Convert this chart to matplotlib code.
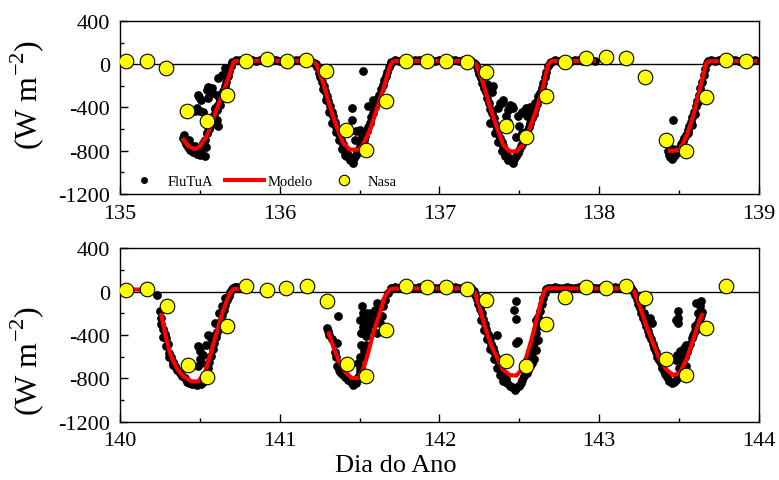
import numpy as np
import matplotlib
matplotlib.use('Agg')
import matplotlib.pyplot as plt
from matplotlib.lines import Line2D
from matplotlib.ticker import MultipleLocator

plt.rcParams['font.family'] = ['Liberation Serif', 'DejaVu Serif']
plt.rcParams['mathtext.fontset'] = 'custom'
plt.rcParams['mathtext.rm'] = 'Liberation Serif'
plt.rcParams['axes.unicode_minus'] = False

nan = float('nan')

# ---------------- Model (red line) ----------------
model_top = [
    (135.39, -683), (135.43, -760), (135.47, -785), (135.50, -760), (135.543, -668),
    (135.575, -545), (135.605, -421), (135.635, -300), (135.668, -174), (135.69, -80),
    (135.709, 11), (135.72, 28), (135.80, 32), (136.00, 32), (136.20, 30), (136.215, 20),
    (136.231, -5), (136.273, -174), (136.315, -390), (136.356, -575), (136.398, -729),
    (136.44, -790), (136.492, -790), (136.523, -744), (136.565, -607), (136.607, -421),
    (136.648, -236), (136.69, -20), (136.71, 26), (136.72, 30), (137.00, 30), (137.21, 30),
    (137.233, -5), (137.274, -174), (137.316, -390), (137.358, -575), (137.399, -744),
    (137.441, -806), (137.483, -806), (137.525, -744), (137.566, -590), (137.608, -421),
    (137.65, -205), (137.681, -5), (137.70, 26), (137.72, 30), (137.98, 30), (nan, nan),
    (138.43, -800), (138.47, -800), (138.505, -790), (138.547, -668), (138.589, -483),
    (138.63, -236), (138.672, 11), (138.69, 28), (138.99, 30),
]
model_bot = [
    (140.00, 20), (140.13, 20), (nan, nan),
    (140.257, -197), (140.282, -381), (140.313, -566), (140.355, -705), (140.396, -782),
    (140.449, -828), (140.49, -828), (140.532, -751), (140.563, -597), (140.605, -381),
    (140.647, -166), (140.689, -12), (140.71, 22), (140.745, 28), (nan, nan),
    (141.304, -366), (141.335, -505), (141.367, -628), (141.408, -736), (141.45, -797),
    (141.492, -797), (141.523, -720), (141.554, -566), (141.586, -381), (141.628, -197),
    (141.659, -43), (141.69, 18), (141.71, 28), (142.00, 30), (142.20, 30), (142.22, 0),
    (142.243, -104), (142.285, -320), (142.327, -505), (142.368, -628), (142.399, -720),
    (142.441, -770), (142.483, -775), (142.514, -720), (142.546, -597), (142.577, -443),
    (142.608, -259), (142.64, -74), (142.66, 10), (142.675, 30), (143.00, 30), (143.20, 30),
    (143.22, 0), (143.255, -135), (143.297, -320), (143.338, -474), (143.38, -628),
    (143.422, -720), (143.464, -770), (143.505, -751), (143.547, -628), (143.589, -443),
    (143.631, -259), (143.651, -197),
]

# ---------------- FluTuA (black dots) ----------------
flutua_top = [
    # dip 1
    (135.395, -680), (135.40, -650), (135.405, -710), (135.415, -740), (135.425, -770),
    (135.43, -700), (135.44, -790), (135.45, -760), (135.455, -810), (135.465, -800),
    (135.47, -760), (135.48, -830), (135.49, -790), (135.50, -840), (135.51, -820),
    (135.515, -770), (135.53, -850), (135.53, -700), (135.54, -770), (135.545, -640),
    (135.55, -580), (135.56, -600), (135.565, -545), (135.575, -530), (135.58, -500),
    (135.59, -470), (135.595, -410), (135.605, -420), (135.605, -520), (135.615, -575),
    (135.615, -380), (135.625, -330), (135.635, -290), (135.645, -250), (135.655, -200),
    (135.665, -160), (135.675, -110), (135.685, -60), (135.695, -20),
    (135.48, -405), (135.49, -282), (135.495, -300), (135.50, -437), (135.51, -328),
    (135.52, -440), (135.543, -236), (135.552, -313), (135.552, -210), (135.574, -267),
    (135.574, -220), (135.595, -405), (135.605, -282), (135.615, -128), (135.626, -374),
    (135.636, -97), (135.657, -35), (135.584, -498), (135.469, -437), (135.52, -729),
    (135.543, -637), (135.563, -575), (135.626, -328),
    # flat
    (135.70, 20), (135.725, 35), (135.75, 40), (135.775, 30), (135.80, 40), (135.825, 35),
    (135.85, 30), (135.875, 40), (135.90, 35), (135.925, 25), (135.95, 35), (135.975, 40),
    (136.00, 30), (136.025, 35), (136.05, 40), (136.075, 30), (136.10, 35), (136.125, 40),
    (136.15, 30), (136.175, 35), (136.20, 25), (136.215, 10),
    # dip 2
    (136.225, 0), (136.235, -30), (136.245, -80), (136.255, -120), (136.265, -160),
    (136.275, -200), (136.285, -250), (136.295, -290), (136.305, -340), (136.315, -390),
    (136.325, -440), (136.335, -480), (136.345, -530), (136.355, -580), (136.365, -620),
    (136.375, -660), (136.385, -700), (136.395, -740), (136.405, -780), (136.415, -810),
    (136.425, -840), (136.435, -860), (136.445, -880), (136.455, -895), (136.465, -870),
    (136.475, -840), (136.27, -230), (136.29, -330), (136.31, -440), (136.33, -540),
    (136.35, -630), (136.37, -700), (136.39, -780), (136.41, -840), (136.418, -852),
    (136.46, -914), (136.44, -883),
    (136.485, -810), (136.495, -780), (136.505, -760), (136.515, -730), (136.525, -700),
    (136.535, -660), (136.545, -620), (136.555, -580), (136.565, -540), (136.575, -490),
    (136.585, -450), (136.595, -400), (136.605, -360), (136.615, -320), (136.625, -280),
    (136.635, -230), (136.645, -190), (136.655, -150), (136.665, -110), (136.675, -70),
    (136.685, -30), (136.695, 10),
    (136.52, -67), (136.554, -390), (136.586, -328), (136.45, -405), (136.45, -513),
    (136.502, -606), (136.515, -660), (136.471, -698), (136.48, -620),
    # flat
    (136.70, 25), (136.725, 35), (136.75, 30), (136.775, 40), (136.80, 35), (136.825, 30),
    (136.85, 40), (136.875, 35), (136.90, 30), (136.925, 40), (136.95, 35), (136.975, 30),
    (137.00, 35), (137.025, 40), (137.05, 30), (137.075, 35), (137.10, 40), (137.125, 30),
    (137.15, 35), (137.175, 40), (137.20, 30), (137.22, 15),
    # dip 3
    (137.23, -10), (137.24, -50), (137.25, -90), (137.26, -130), (137.27, -170),
    (137.28, -220), (137.29, -260), (137.30, -310), (137.31, -360), (137.32, -410),
    (137.33, -450), (137.34, -500), (137.35, -550), (137.36, -590), (137.37, -630),
    (137.38, -680), (137.39, -720), (137.40, -760), (137.41, -800), (137.42, -830),
    (137.43, -860), (137.44, -880), (137.45, -890), (137.46, -910), (137.47, -880),
    (137.48, -850), (137.30, -180), (137.316, -220), (137.33, -260), (137.337, -205),
    (137.316, -545), (137.35, -640), (137.37, -720), (137.39, -800), (137.41, -850),
    (137.43, -890),
    (137.49, -820), (137.50, -790), (137.51, -760), (137.52, -740), (137.53, -700),
    (137.54, -660), (137.55, -620), (137.56, -580), (137.57, -540), (137.58, -500),
    (137.59, -460), (137.60, -410), (137.61, -370), (137.62, -320), (137.63, -270),
    (137.64, -220), (137.65, -170), (137.66, -120), (137.67, -70), (137.68, -20),
    (137.69, 15), (137.56, -420), (137.57, -400), (137.60, -360), (137.62, -298),
    (137.546, -483),
    (137.379, -359), (137.39, -359), (137.399, -328), (137.441, -374), (137.452, -390),
    (137.46, -405), (137.43, -420), (137.37, -405), (137.42, -483), (137.43, -530),
    (137.49, -483), (137.52, -440), (137.54, -405), (137.50, -575), (137.48, -670),
    (137.52, -640),
    # flat
    (137.70, 25), (137.725, 35), (137.75, 30), (137.775, 40), (137.80, 35), (137.825, 30),
    (137.85, 40), (137.875, 35), (137.90, 30), (137.925, 40), (137.95, 35), (137.975, 30),
    # dip 4
    (138.43, -800), (138.435, -840), (138.445, -860), (138.455, -880), (138.465, -860),
    (138.475, -840), (138.485, -810), (138.495, -790), (138.505, -770), (138.515, -740),
    (138.525, -710), (138.535, -680), (138.545, -650), (138.555, -610), (138.565, -570),
    (138.575, -530), (138.585, -490), (138.595, -440), (138.605, -390), (138.615, -340),
    (138.625, -280), (138.635, -220), (138.645, -160), (138.655, -100), (138.665, -40),
    (138.675, 10), (138.685, 30), (138.464, -513), (138.44, -800), (138.46, -780),
    (138.56, -640), (138.58, -560), (138.60, -460), (138.62, -350),
    # flat
    (138.70, 35), (138.725, 30), (138.75, 40), (138.775, 35), (138.80, 30), (138.825, 40),
    (138.85, 35), (138.875, 30), (138.90, 40), (138.925, 35), (138.95, 30), (138.975, 35),
]

flutua_bot = [
    # dip 5
    (140.229, -28), (140.25, -182), (140.255, -240), (140.26, -300), (140.27, -340),
    (140.28, -390), (140.29, -430), (140.30, -480), (140.31, -570), (140.32, -600),
    (140.33, -650), (140.345, -690), (140.36, -720), (140.375, -750), (140.39, -780),
    (140.405, -800), (140.42, -830), (140.435, -840), (140.45, -850), (140.465, -855),
    (140.48, -860), (140.495, -855), (140.51, -850), (140.52, -830), (140.53, -800),
    (140.54, -760), (140.55, -700), (140.56, -650), (140.57, -590), (140.58, -530),
    (140.59, -470), (140.60, -420), (140.61, -370), (140.62, -320), (140.63, -270),
    (140.64, -220), (140.65, -170), (140.66, -120), (140.67, -80), (140.68, -40),
    (140.69, 0), (140.70, 20), (140.71, 30), (140.72, 40), (140.73, 40), (140.74, 35),
    (140.595, -289), (140.62, -200), (140.64, -130), (140.66, -60),
    (140.486, -505), (140.50, -550), (140.52, -580), (140.553, -397), (140.57, -430),
    (140.584, -413), (140.49, -690), (140.50, -620), (140.51, -660), (140.54, -490),
    (140.27, -420), (140.29, -500), (140.31, -600), (140.33, -680),
    # dip 6
    (141.294, -335), (141.30, -360), (141.31, -400), (141.33, -440), (141.356, -474),
    (141.367, -228), (141.345, -560), (141.35, -600), (141.356, -690), (141.37, -720),
    (141.38, -745), (141.39, -760), (141.41, -790), (141.43, -812), (141.445, -835),
    (141.46, -860), (141.475, -840), (141.48, -830), (141.49, -790), (141.50, -740),
    (141.513, -136), (141.52, -197), (141.50, -259), (141.53, -290), (141.55, -259),
    (141.51, -381), (141.54, -413), (141.555, -351), (141.586, -228), (141.596, -166),
    (141.607, -104), (141.617, -120), (141.51, -490), (141.53, -550), (141.49, -660),
    (141.50, -600), (141.54, -490), (141.575, -290), (141.607, -381), (141.628, -290),
    (141.638, -228), (141.65, -136), (141.66, -74), (141.68, -12), (141.70, 20),
    (141.52, -330), (141.56, -300), (141.57, -200), (141.59, -300), (141.60, -250),
    (141.545, -200), (141.52, -600), (141.51, -710), (141.50, -700),
    # flat
    (141.70, 30), (141.725, 40), (141.75, 35), (141.775, 30), (141.80, 40), (141.825, 35),
    (141.85, 30), (141.875, 40), (141.90, 35), (141.925, 30), (141.95, 40), (141.975, 35),
    (142.00, 30), (142.025, 40), (142.05, 35), (142.075, 30), (142.10, 40), (142.125, 35),
    (142.15, 30), (142.175, 40), (142.20, 30),
    # dip 7
    (142.215, 10), (142.225, -30), (142.235, -70), (142.245, -110), (142.255, -160),
    (142.265, -200), (142.275, -250), (142.285, -300), (142.295, -340), (142.305, -390),
    (142.315, -430), (142.325, -480), (142.335, -520), (142.345, -560), (142.355, -600),
    (142.365, -640), (142.375, -680), (142.385, -720), (142.395, -760), (142.405, -790),
    (142.415, -810), (142.425, -840), (142.44, -870), (142.455, -880), (142.473, -910),
    (142.485, -880), (142.50, -870), (142.51, -840), (142.52, -812), (142.53, -780),
    (142.546, -750), (142.556, -720), (142.567, -690),
    (142.26, -260), (142.28, -350), (142.30, -440), (142.32, -530), (142.34, -620),
    (142.36, -700), (142.38, -770), (142.40, -820),
    (142.577, -566), (142.585, -520), (142.59, -470), (142.60, -443), (142.605, -380),
    (142.608, -259), (142.615, -320), (142.62, -230), (142.63, -180), (142.64, -110),
    (142.65, -60), (142.66, -10), (142.67, 25),
    (142.608, -535), (142.617, -443), (142.59, -620), (142.58, -660), (142.57, -600),
    (142.479, -89), (142.47, -170), (142.48, -250), (142.48, -474), (142.494, -459),
    (142.358, -397),
    # flat
    (142.68, 35), (142.70, 30), (142.725, 40), (142.75, 35), (142.775, 30), (142.80, 40),
    (142.825, 35), (142.85, 30), (142.875, 40), (142.90, 35), (142.925, 30), (142.95, 40),
    (142.975, 35), (143.00, 30), (143.025, 40), (143.05, 35), (143.075, 30), (143.10, 40),
    (143.125, 35), (143.15, 30), (143.175, 40), (143.20, 30),
    # dip 8
    (143.215, 10), (143.225, -30), (143.235, -70), (143.245, -110), (143.255, -150),
    (143.265, -200), (143.275, -240), (143.285, -280), (143.295, -320), (143.305, -360),
    (143.315, -400), (143.325, -440), (143.335, -480), (143.345, -520), (143.355, -560),
    (143.365, -600), (143.375, -630), (143.385, -660), (143.395, -700), (143.405, -730),
    (143.415, -760), (143.425, -790), (143.44, -828), (143.455, -843), (143.47, -830),
    (143.48, -812), (143.495, -790), (143.51, -782),
    (143.318, -243), (143.33, -290), (143.26, -130), (143.28, -200),
    (143.495, -182), (143.495, -243), (143.495, -290), (143.48, -259), (143.61, -104),
    (143.63, -135), (143.62, -197), (143.63, -243), (143.60, -320), (143.58, -430),
    (143.547, -490), (143.53, -520), (143.51, -550), (143.49, -580), (143.48, -630),
    (143.50, -700), (143.52, -640), (143.54, -600), (143.56, -520), (143.57, -480),
    (143.59, -400), (143.60, -360), (143.615, -300), (143.625, -260), (143.64, -220),
    (143.645, -190), (143.55, -560), (143.53, -740), (143.545, -690), (143.64, -90),
]

# ---------------- Nasa (yellow circles) ----------------
nasa_top_day = [135.038, 135.167, 135.288, 135.421, 135.543, 135.668, 135.787, 135.918,
                136.043, 136.168, 136.293, 136.418, 136.54, 136.669, 136.79, 136.92,
                137.041, 137.17, 137.291, 137.42, 137.54, 137.667, 137.787, 137.921,
                138.042, 138.167, 138.29, 138.422, 138.543, 138.668, 138.793, 138.919]
nasa_top_val = [26, 26, -35, -430, -522, -282, 26, 48,
                32, 42, -67, -606, -790, -344, 32, 32,
                32, 20, -76, -575, -673, -298, 17, 57,
                67, 57, -122, -698, -800, -307, 42, 32]
nasa_bot_day = [140.038, 140.167, 140.292, 140.424, 140.543, 140.668, 140.789, 140.918,
                141.039, 141.169, 141.294, 141.419, 141.54, 141.669, 141.79, 141.92,
                142.041, 142.17, 142.291, 142.42, 142.54, 142.667, 142.787, 142.921,
                143.042, 143.167, 143.29, 143.422, 143.543, 143.668, 143.793]
nasa_bot_val = [18, 28, -129, -674, -791, -314, 49, 18,
                34, 55, -89, -665, -776, -351, 55, 43,
                40, 28, -74, -643, -690, -298, -52, 43,
                34, 49, -58, -622, -773, -335, 55]

x_ranges = [(135, 139), (140, 144)]
y_range = (-1200, 400)
legend_labels = ['FluTuA', 'Modelo', 'Nasa']

fig = plt.figure(figsize=(7.79, 4.81), dpi=100)
ax1 = fig.add_axes([0.154, 0.5946, 0.820, 0.3597])
ax2 = fig.add_axes([0.154, 0.1212, 0.820, 0.3605])

panels = [
    (ax1, model_top, flutua_top, nasa_top_day, nasa_top_val, x_ranges[0]),
    (ax2, model_bot, flutua_bot, nasa_bot_day, nasa_bot_val, x_ranges[1]),
]

for ax, model, flu, nd, nv, xr in panels:
    ax.axhline(0, color='black', lw=1.0, zorder=1)
    fd = [p[0] for p in flu]
    fv = [p[1] for p in flu]
    ax.plot(fd, fv, 'o', color='black', ms=6.3, mew=0, zorder=2)
    md = [p[0] for p in model]
    mv = [p[1] for p in model]
    ax.plot(md, mv, '-', color='#ff0000', lw=3.0, zorder=3, solid_capstyle='butt')
    ax.plot(nd, nv, 'o', color='#ffff00', mec='black', mew=0.8, ms=10.5, zorder=4)
    ax.set_xlim(*xr)
    ax.set_ylim(*y_range)
    ax.xaxis.set_major_locator(MultipleLocator(1))
    ax.xaxis.set_minor_locator(MultipleLocator(0.5))
    ax.yaxis.set_major_locator(MultipleLocator(400))
    ax.yaxis.set_minor_locator(MultipleLocator(200))
    ax.tick_params(which='both', direction='in', top=False, right=False,
                   labelsize=16, pad=7, width=1.0)
    ax.tick_params(which='major', length=6)
    ax.tick_params(which='minor', length=3)
    for s in ax.spines.values():
        s.set_linewidth(1.0)

handles = [
    Line2D([], [], ls='none', marker='o', color='black', ms=5, mew=0),
    Line2D([], [], ls='-', color='#ff0000', lw=3.0),
    Line2D([], [], ls='none', marker='o', color='#ffff00', mec='black', mew=0.8, ms=7.5),
]
ax1.legend(handles, legend_labels, loc='center left', bbox_to_anchor=(0.0, 0.075),
           ncol=3, frameon=False, fontsize=10.5, handlelength=2.7, handletextpad=0.25,
           columnspacing=0.8, borderpad=0.3, borderaxespad=0.0)

ylab = r'(W m$^{\mathregular{-2}}$)'
fig.text(27 / 779, 1 - 95 / 481, ylab, rotation=90, fontsize=23, ha='center', va='center')
fig.text(27 / 779, 1 - 361 / 481, ylab, rotation=90, fontsize=23, ha='center', va='center')
fig.text(396 / 779, 1 - 466 / 481, 'Dia do Ano', fontsize=19, ha='center', va='center')

fig.savefig('out.png', dpi=100)
